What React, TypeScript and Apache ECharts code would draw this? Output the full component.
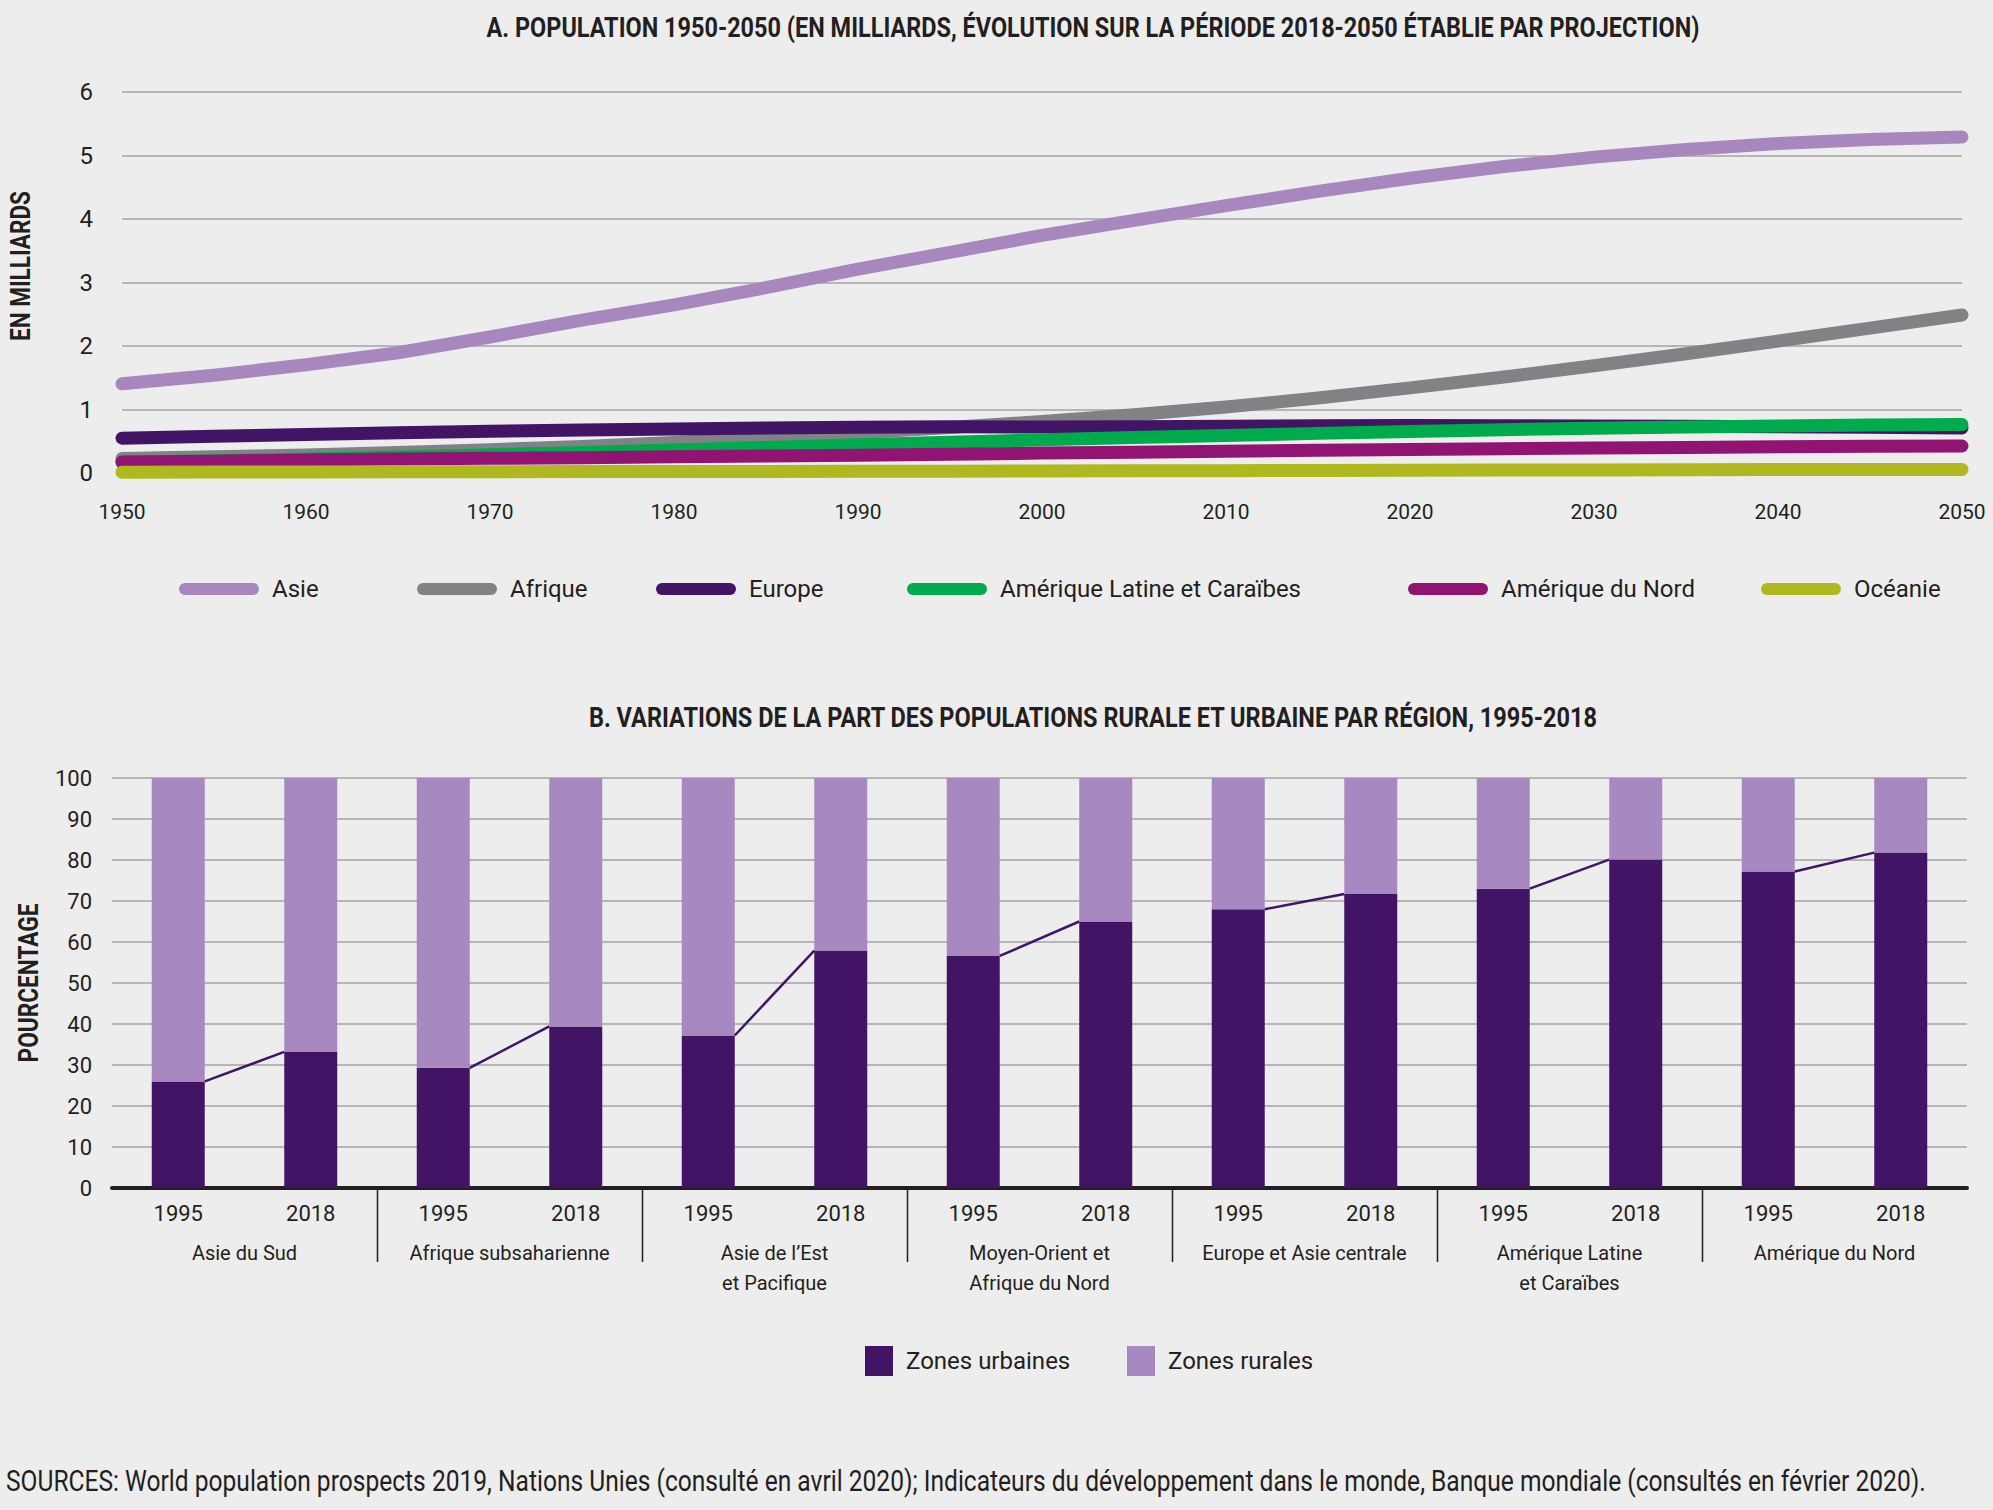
import React, { useEffect, useRef } from "react";
import * as echarts from "echarts";

// ---------- DATA ----------
const years = [1950, 1955, 1960, 1965, 1970, 1975, 1980, 1985, 1990, 1995, 2000, 2005, 2010, 2015, 2020, 2025, 2030, 2035, 2040, 2045, 2050];
const asie = [1.405, 1.54, 1.705, 1.894, 2.142, 2.406, 2.649, 2.919, 3.21, 3.476, 3.741, 3.978, 4.21, 4.434, 4.641, 4.823, 4.974, 5.096, 5.189, 5.253, 5.29];
const afrique = [0.228, 0.254, 0.285, 0.322, 0.366, 0.418, 0.481, 0.554, 0.634, 0.716, 0.811, 0.918, 1.039, 1.182, 1.341, 1.509, 1.688, 1.879, 2.077, 2.282, 2.489];
const europe = [0.549, 0.577, 0.606, 0.635, 0.657, 0.677, 0.694, 0.708, 0.721, 0.727, 0.726, 0.729, 0.736, 0.743, 0.748, 0.746, 0.741, 0.736, 0.729, 0.72, 0.71];
const ameriqueLatine = [0.169, 0.193, 0.221, 0.253, 0.288, 0.324, 0.363, 0.403, 0.443, 0.484, 0.523, 0.558, 0.591, 0.624, 0.654, 0.682, 0.706, 0.726, 0.742, 0.754, 0.762];
const ameriqueNord = [0.173, 0.187, 0.205, 0.219, 0.231, 0.242, 0.254, 0.267, 0.28, 0.297, 0.313, 0.328, 0.343, 0.357, 0.369, 0.381, 0.393, 0.403, 0.413, 0.42, 0.425];
const oceanie = [0.013, 0.014, 0.016, 0.018, 0.02, 0.022, 0.023, 0.025, 0.027, 0.029, 0.031, 0.034, 0.037, 0.04, 0.043, 0.046, 0.049, 0.051, 0.054, 0.056, 0.057];

const seriesNamesA = ["Asie", "Afrique", "Europe", "Amérique Latine et Caraïbes", "Amérique du Nord", "Océanie"];
const seriesColorsA = ["#a887bf", "#818285", "#411466", "#00ab4e", "#911472", "#afb81e"];

const regions = [
  "Asie du Sud",
  "Afrique subsaharienne",
  "Asie de l’Est\net Pacifique",
  "Moyen-Orient et\nAfrique du Nord",
  "Europe et Asie centrale",
  "Amérique Latine\net Caraïbes",
  "Amérique du Nord",
];
const periods = ["1995", "2018"];
const urban1995 = [26.0, 29.3, 37.2, 56.6, 68.0, 73.0, 77.2];
const urban2018 = [33.2, 39.4, 57.9, 65.0, 71.7, 80.1, 81.8];

const TITLE_A = "A. POPULATION 1950-2050 (EN MILLIARDS, ÉVOLUTION SUR LA PÉRIODE 2018-2050 ÉTABLIE PAR PROJECTION)";
const TITLE_B = "B. VARIATIONS DE LA PART DES POPULATIONS RURALE ET URBAINE PAR RÉGION, 1995-2018";
const AXIS_A = "EN MILLIARDS";
const AXIS_B = "POURCENTAGE";
const SOURCES = "SOURCES: World population prospects 2019, Nations Unies (consulté en avril 2020); Indicateurs du développement dans le monde, Banque mondiale (consultés en février 2020).";

// ---------- STYLE ----------
const FONT = "Roboto, 'Liberation Sans', sans-serif";
const TEXT = "#231f20";
const GRID = "#a3a3a3";
const URBAN = "#411466";
const RURAL = "#a888c0";

function measure(text: string, font: string): number {
  const c = document.createElement("canvas").getContext("2d");
  if (!c) return 0;
  c.font = font;
  return c.measureText(text).width;
}

function condensedText(text: string, x: number, y: number, size: number, bold: boolean, targetWidth: number, align: string, rotation = 0) {
  const w = measure(text, `${bold ? "bold " : ""}${size}px Roboto`);
  const sx = w > 0 ? targetWidth / w : 0.8;
  return {
    type: "text",
    x,
    y,
    rotation,
    scaleX: sx,
    style: {
      text,
      fontFamily: FONT,
      fontSize: size,
      fontWeight: bold ? "bold" : "normal",
      fill: TEXT,
      align,
      verticalAlign: "middle",
    },
  };
}

export default function App() {
  const ref = useRef<HTMLDivElement>(null);

  useEffect(() => {
    document.body.style.margin = "0";
    document.body.style.background = "#ededed";
    if (!ref.current) return;
    const chart = echarts.init(ref.current, null, { renderer: "svg" });

    const seriesDataA = [asie, afrique, europe, ameriqueLatine, ameriqueNord, oceanie];
    const legendLefts = [174, 412, 651, 902, 1403, 1756];
    const capsule = "path://M6,0L74,0A6,6,0,0,1,74,12L6,12A6,6,0,0,1,6,0Z";

    const barCats: string[] = [];
    const urbanData: number[] = [];
    const ruralData: number[] = [];
    regions.forEach((_, i) => {
      barCats.push(periods[0], periods[1]);
      urbanData.push(urban1995[i], urban2018[i]);
      ruralData.push(+(100 - urban1995[i]).toFixed(1), +(100 - urban2018[i]).toFixed(1));
    });

    const option: any = {
      animation: false,
      backgroundColor: "#ededed",
      textStyle: { fontFamily: FONT, color: TEXT },
      grid: [
        { left: 122, right: 31, top: 92, height: 381 },
        { left: 112, right: 26, top: 778, height: 410 },
      ],
      xAxis: [
        {
          type: "value",
          gridIndex: 0,
          min: 1950,
          max: 2050,
          interval: 10,
          axisLine: { show: false },
          axisTick: { show: false },
          splitLine: { show: false },
          axisLabel: { fontFamily: FONT, fontSize: 21, color: TEXT, margin: 28, formatter: (v: number) => String(v) },
        },
        {
          type: "category",
          gridIndex: 1,
          data: barCats,
          position: "bottom",
          axisLine: { show: true, lineStyle: { color: TEXT, width: 4 } },
          axisTick: { show: false },
          axisLabel: { fontFamily: FONT, fontSize: 22, color: TEXT, margin: 14, interval: 0 },
        },
        {
          type: "category",
          gridIndex: 1,
          data: regions,
          position: "bottom",
          axisLine: { show: false },
          axisTick: { show: false },
          axisLabel: { fontFamily: FONT, fontSize: 20, color: TEXT, margin: 50, lineHeight: 30, interval: 0 },
        },
      ],
      yAxis: [
        {
          type: "value",
          gridIndex: 0,
          min: 0,
          max: 6,
          interval: 1,
          axisLine: { show: false },
          axisTick: { show: false },
          splitLine: { lineStyle: { color: GRID, width: 1.6 } },
          axisLabel: { fontFamily: FONT, fontSize: 24, color: TEXT, margin: 29 },
        },
        {
          type: "value",
          gridIndex: 1,
          min: 0,
          max: 100,
          interval: 10,
          axisLine: { show: false },
          axisTick: { show: false },
          splitLine: { lineStyle: { color: GRID, width: 1.6 } },
          axisLabel: { fontFamily: FONT, fontSize: 22, color: TEXT, margin: 20 },
        },
      ],
      legend: [
        ...seriesNamesA.map((n, i) => ({
          data: [n],
          left: legendLefts[i],
          top: 572,
          icon: capsule,
          itemWidth: 80,
          itemHeight: 12,
          selectedMode: false,
          textStyle: { fontFamily: FONT, fontSize: 24, color: TEXT, padding: [0, 0, 0, 8] },
        })),
        {
          data: ["Zones urbaines"],
          left: 860,
          top: 1341,
          icon: "rect",
          itemWidth: 28,
          itemHeight: 30,
          selectedMode: false,
          textStyle: { fontFamily: FONT, fontSize: 24, color: TEXT, padding: [0, 0, 0, 8] },
        },
        {
          data: ["Zones rurales"],
          left: 1122,
          top: 1341,
          icon: "rect",
          itemWidth: 28,
          itemHeight: 30,
          selectedMode: false,
          textStyle: { fontFamily: FONT, fontSize: 24, color: TEXT, padding: [0, 0, 0, 8] },
        },
      ],
      series: [
        ...seriesNamesA.map((n, i) => ({
          name: n,
          type: "line",
          xAxisIndex: 0,
          yAxisIndex: 0,
          data: years.map((y, k) => [y, seriesDataA[i][k]]),
          showSymbol: false,
          symbol: "none",
          color: seriesColorsA[i],
          itemStyle: { color: seriesColorsA[i] },
          lineStyle: { color: seriesColorsA[i], width: 13, cap: "round", join: "round" },
          z: 2 + i,
        })),
        {
          name: "Zones urbaines",
          type: "bar",
          xAxisIndex: 1,
          yAxisIndex: 1,
          stack: "b",
          barWidth: "40%",
          data: urbanData,
          itemStyle: { color: URBAN },
          color: URBAN,
        },
        {
          name: "Zones rurales",
          type: "bar",
          xAxisIndex: 1,
          yAxisIndex: 1,
          stack: "b",
          barWidth: "40%",
          data: ruralData,
          itemStyle: { color: RURAL },
          color: RURAL,
        },
        {
          type: "custom",
          xAxisIndex: 1,
          yAxisIndex: 1,
          silent: true,
          clip: false,
          z: 10,
          data: regions.map((_, i) => [i, urban1995[i], urban2018[i]]),
          renderItem: (_params: any, api: any) => {
            const i = api.value(0);
            const band = api.size([1, 0])[0];
            const half = band * 0.2;
            const p1 = api.coord([2 * i, api.value(1)]);
            const p2 = api.coord([2 * i + 1, api.value(2)]);
            return {
              type: "line",
              shape: { x1: p1[0] + half, y1: p1[1], x2: p2[0] - half, y2: p2[1] },
              style: { stroke: URBAN, lineWidth: 2.5 },
            };
          },
        },
        {
          type: "custom",
          xAxisIndex: 1,
          yAxisIndex: 1,
          silent: true,
          clip: false,
          z: 10,
          data: regions.slice(0, regions.length - 1).map((_, k) => [k, 0]),
          renderItem: (_params: any, api: any) => {
            const k = api.value(0);
            const band = api.size([1, 0])[0];
            const p = api.coord([2 * k + 1, 0]);
            const x = Math.round(p[0] + band / 2) + 0.5;
            return {
              type: "line",
              shape: { x1: x, y1: p[1] + 2, x2: x, y2: p[1] + 74 },
              style: { stroke: TEXT, lineWidth: 1.5 },
            };
          },
        },
      ],
      graphic: [
        condensedText(TITLE_A, 1093, 27, 28, true, 1213, "center"),
        condensedText(TITLE_B, 1093, 717, 28, true, 1010, "center"),
        condensedText(AXIS_A, 20, 266, 28, true, 150, "center", Math.PI / 2),
        condensedText(AXIS_B, 28, 983, 28, true, 159, "center", Math.PI / 2),
        condensedText(SOURCES, 6, 1481, 30, false, 1920, "left"),
      ],
    };

    chart.setOption(option);
    return () => chart.dispose();
  }, []);

  return <div ref={ref} style={{ width: 1993, height: 1510 }} />;
}
